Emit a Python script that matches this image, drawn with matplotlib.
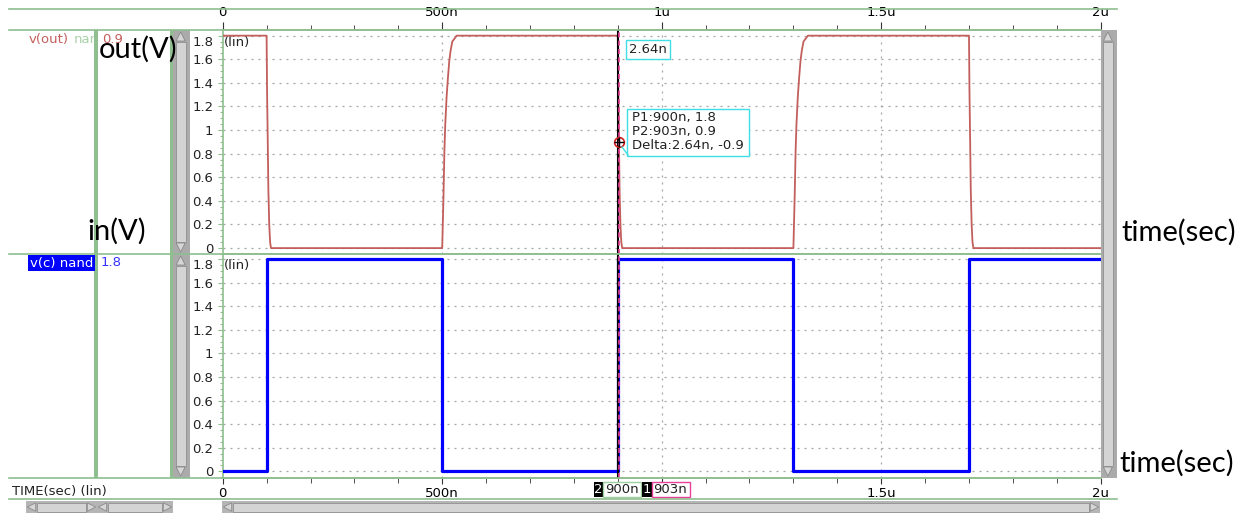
import matplotlib
matplotlib.use("Agg")
import matplotlib.pyplot as plt
from matplotlib.patches import Rectangle, Polygon
from matplotlib.ticker import MultipleLocator, FixedLocator
from matplotlib.transforms import Bbox, TransformedBbox

W, H = 1259, 513

# input v(c): step levels after each edge time (ns)
in_t = [0, 100, 500, 900, 1300, 1700, 2000]
in_v = [0, 1.8, 0, 1.8, 0, 1.8, 1.8]

# output v(out) of the nand, sampled around its edges (ns, V)
out_t = [0, 100, 101, 102.64, 104, 106, 108, 110,
         500, 501, 503, 505, 507, 510, 513, 516, 519, 523, 533,
         900, 901, 902.64, 904, 906, 908, 910,
         1300, 1301, 1303, 1305, 1307, 1310, 1313, 1316, 1319, 1323, 1333,
         1700, 1701, 1702.64, 1704, 1706, 1708, 1710, 2000]
out_v = [1.8, 1.8, 1.35, 0.9, 0.5, 0.2, 0.05, 0,
         0, 0.15, 0.45, 0.82, 1.05, 1.28, 1.44, 1.58, 1.67, 1.75, 1.8,
         1.8, 1.35, 0.9, 0.5, 0.2, 0.05, 0,
         0, 0.15, 0.45, 0.82, 1.05, 1.28, 1.44, 1.58, 1.67, 1.75, 1.8,
         1.8, 1.35, 0.9, 0.5, 0.2, 0.05, 0, 0]

# cursors
p1 = (900, 1.8)
p2 = (902.64, 0.9)
delta_t = 2.64

y_ticks = [0, 0.2, 0.4, 0.6, 0.8, 1.0, 1.2, 1.4, 1.6, 1.8]
y_labels = ["0", "0.2", "0.4", "0.6", "0.8", "1", "1.2", "1.4", "1.6", "1.8"]
x_ticks = [0, 500, 1000, 1500, 2000]
x_labels_top = ["0", "500n", "1u", "1.5u", "2u"]
# the "1u" slot on the bottom axis sits under the cursor readouts
x_labels_bottom = ["0", "500n", "", "1.5u", "2u"]

GREEN = "#8fbf8f"
GRID = "#a6a6a6"
RED = "#c25f5c"
BLUE = "#0000ff"
CYAN = "#3fdde6"
PINK = "#e8409a"
FONT = "DejaVu Sans"
FS = 9.5

plt.rcParams["font.family"] = FONT

fig = plt.figure(figsize=(W / 100, H / 100), dpi=100)


def rect(x0, y0, x1, y1):
    return [x0 / W, 1 - y1 / H, (x1 - x0) / W, (y1 - y0) / H]


def panel(box, ylim, xlabels):
    ax = fig.add_axes(rect(*box))
    ax.set_xlim(0, 2000)
    ax.set_ylim(*ylim)
    ax.set_yticks(y_ticks, y_labels)
    ax.yaxis.set_minor_locator(MultipleLocator(0.05))
    ax.xaxis.set_major_locator(FixedLocator(x_ticks))
    ax.set_xticklabels(xlabels)
    ax.xaxis.set_minor_locator(MultipleLocator(100))
    for y in y_ticks:
        ax.axhline(y, color=GRID, lw=0.9, ls=(0, (1.6, 4.0)), zorder=0)
    for x in [500, 1000, 1500]:
        ax.axvline(x, color=GRID, lw=0.9, ls=(0, (1.6, 4.0)), zorder=0)
    for side in ["left", "top", "bottom"]:
        ax.spines[side].set_color(GREEN)
        ax.spines[side].set_linewidth(1.2)
    ax.spines["right"].set_color(GREEN)
    ax.spines["right"].set_linestyle((0, (1.5, 1.5)))
    ax.tick_params(axis="y", which="major", length=3.6, width=0.8, color=GREEN,
                   pad=3.2, labelsize=FS, labelcolor="#222222")
    ax.tick_params(axis="y", which="minor", length=2.2, width=0.8, color=GREEN)
    ax.yaxis.get_major_ticks()[-1].label1.set_verticalalignment("top")
    ax.text(2, 1.8, "(lin)", fontsize=FS, va="top", ha="left",
            transform=ax.transData, color="#222222")
    return ax


ax_out = panel((222.7, 30, 1100.7, 254), (-0.05, 1.848), x_labels_top)
ax_in = panel((222.7, 254, 1100.7, 478), (-0.056, 1.842), x_labels_bottom)

ax_out.tick_params(axis="x", which="both", top=True, labeltop=True,
                   bottom=False, labelbottom=False, color="#333333", labelsize=FS)
ax_out.tick_params(axis="x", which="major", length=5.5, pad=2.2)
ax_out.tick_params(axis="x", which="minor", length=3.8)
ax_in.tick_params(axis="x", which="both", color="#333333", labelsize=FS)
ax_in.tick_params(axis="x", which="major", length=4, pad=2.8)
ax_in.tick_params(axis="x", which="minor", length=3.5)

ax_out.plot(out_t, out_v, color=RED, lw=1.3, zorder=3)
ax_in.plot(in_t, in_v, color=BLUE, lw=2.3, drawstyle="steps-post", zorder=3)

for ax in (ax_out, ax_in):
    ax.axvline(p1[0], color="black", lw=1.5, zorder=4)
    ax.axvline(p2[0], color=PINK, lw=1.2, ls=(0, (3, 2)), zorder=5)

ax_out.plot(*p2, marker="o", ms=7, mfc="none", mec="#d02020", mew=1.2, zorder=6)
ax_out.plot(*p2, marker="+", ms=7, color="black", mew=1.0, zorder=7)

# overlay in pixel coordinates for the viewer chrome and notes
ov = fig.add_axes([0, 0, 1, 1], zorder=10)
ov.set_xlim(0, W)
ov.set_ylim(H, 0)
ov.axis("off")
ov.patch.set_alpha(0)

for y, x1 in [(9.3, 1117), (30, 1100), (254, 1100), (478, 1100), (499, 1117)]:
    ov.plot([9, x1], [y, y], color=GREEN, lw=1.2)
ov.add_patch(Rectangle((94, 30), 4, 448, fc=GREEN, ec="none"))
ov.add_patch(Rectangle((170, 30), 3.3, 448, fc=GREEN, ec="none"))


def arrow(cx, cy, d, size=5):
    # d: direction the triangle points to
    if d == "up":
        pts = [(cx - size, cy + size), (cx + size, cy + size), (cx, cy - size)]
    elif d == "down":
        pts = [(cx - size, cy - size), (cx + size, cy - size), (cx, cy + size)]
    elif d == "left":
        pts = [(cx + size, cy - size), (cx + size, cy + size), (cx - size, cy)]
    else:
        pts = [(cx - size, cy - size), (cx - size, cy + size), (cx + size, cy)]
    ov.add_patch(Polygon(pts, closed=True, fc="#d6d6d6", ec="#8a8a8a", lw=0.6))


def vscroll(x0, x1, y0, y1):
    ov.add_patch(Rectangle((x0, y0), x1 - x0, y1 - y0, fc="#ababab", ec="none"))
    ov.add_patch(Rectangle((x0 + 2.5, y0 + 12), x1 - x0 - 6, y1 - y0 - 24,
                           fc="#d4d4d4", ec="#909090", lw=0.6))
    cx = (x0 + x1) / 2 - 1
    arrow(cx, y0 + 6.5, "up", 4.5)
    arrow(cx, y1 - 6.5, "down", 4.5)


def hscroll(x0, x1, y0=501, y1=513):
    ov.add_patch(Rectangle((x0, y0), x1 - x0, y1 - y0, fc="#b5b5b5", ec="none"))
    ov.add_patch(Rectangle((x0 + 11, y0 + 1.5), x1 - x0 - 22, y1 - y0 - 3,
                           fc="#d4d4d4", ec="#909090", lw=0.6))
    cy = (y0 + y1) / 2
    arrow(x0 + 5.5, cy, "left", 4.2)
    arrow(x1 - 5.5, cy, "right", 4.2)


vscroll(173.3, 190, 30, 254)
vscroll(173.3, 190, 254, 478)
vscroll(1100.7, 1117, 30, 478)
hscroll(26, 97)
hscroll(97, 173)
hscroll(222, 1100)

# signal names and values
ov.text(29, 39.5, "v(out)", color=RED, fontsize=FS, va="center", ha="left")
nm = ov.text(74, 39.5, "nand", color="#a9d1a9", fontsize=FS, va="center", ha="left")
nm.set_clip_box(TransformedBbox(Bbox.from_extents(0, 0, 94, H), ov.transData))
nm.set_clip_on(True)
ov.text(102, 39.5, "0.9", color=RED, fontsize=FS, va="center", ha="left")
ov.text(30, 263, "v(c) nand", color="white", fontsize=FS, va="center", ha="left",
        bbox=dict(boxstyle="square,pad=0.12", fc=BLUE, ec="none"))
ov.text(101, 263, "1.8", color="#3333ff", fontsize=FS, va="center", ha="left")
ov.text(12, 491, "TIME(sec) (lin)", color="#222222", fontsize=FS, va="center", ha="left")

# cursor readouts
ov.text(629, 49.5, "%gn" % delta_t, fontsize=FS, va="center", ha="left", color="#222222",
        bbox=dict(boxstyle="square,pad=0.22", fc="white", ec=CYAN, lw=1.0))
ov.add_patch(Rectangle((627, 109), 122, 47, fc="white", ec=CYAN, lw=1.0))
readout = ["P1:%gn, %g" % p1, "P2:%gn, %g" % (round(p2[0]), p2[1]),
           "Delta:%gn, %g" % (delta_t, p2[1] - p1[1])]
for i, line in enumerate(readout):
    ov.text(632, 117 + 14 * i, line, fontsize=FS, va="center", ha="left", color="#222222")
ov.plot([622, 628], [147, 155], color=CYAN, lw=1.0)

ov.add_patch(Rectangle((594, 482), 9.5, 15, fc="black", ec="none"))
ov.text(598.7, 489.5, "2", color="white", fontsize=FS, va="center", ha="center")
ov.add_patch(Rectangle((603.5, 482), 38, 15, fc="white", ec="#9fcf9f", lw=1.0))
ov.text(605, 489.5, "%gn" % p1[0], color="#222222", fontsize=FS, va="center", ha="left")
ov.add_patch(Rectangle((642, 482), 10, 15, fc="black", ec="none"))
ov.text(647, 489.5, "1", color="white", fontsize=FS, va="center", ha="center")
ov.add_patch(Rectangle((652, 482), 38, 15, fc="white", ec=PINK, lw=1.0))
ov.text(653.5, 489.5, "%gn" % round(p2[0]), color="#222222", fontsize=FS, va="center", ha="left")

# axis notes
NOTE = dict(fontsize=21, family="Lato", color="black", va="center", ha="left")
ov.text(99, 49, "out(V)", **NOTE)
ov.text(87, 231, "in(V)", **NOTE)
ov.text(1121, 232, "time(sec)", **NOTE)
ov.text(1119, 463, "time(sec)", **NOTE)

fig.savefig("out.png", dpi=100, facecolor="white")
